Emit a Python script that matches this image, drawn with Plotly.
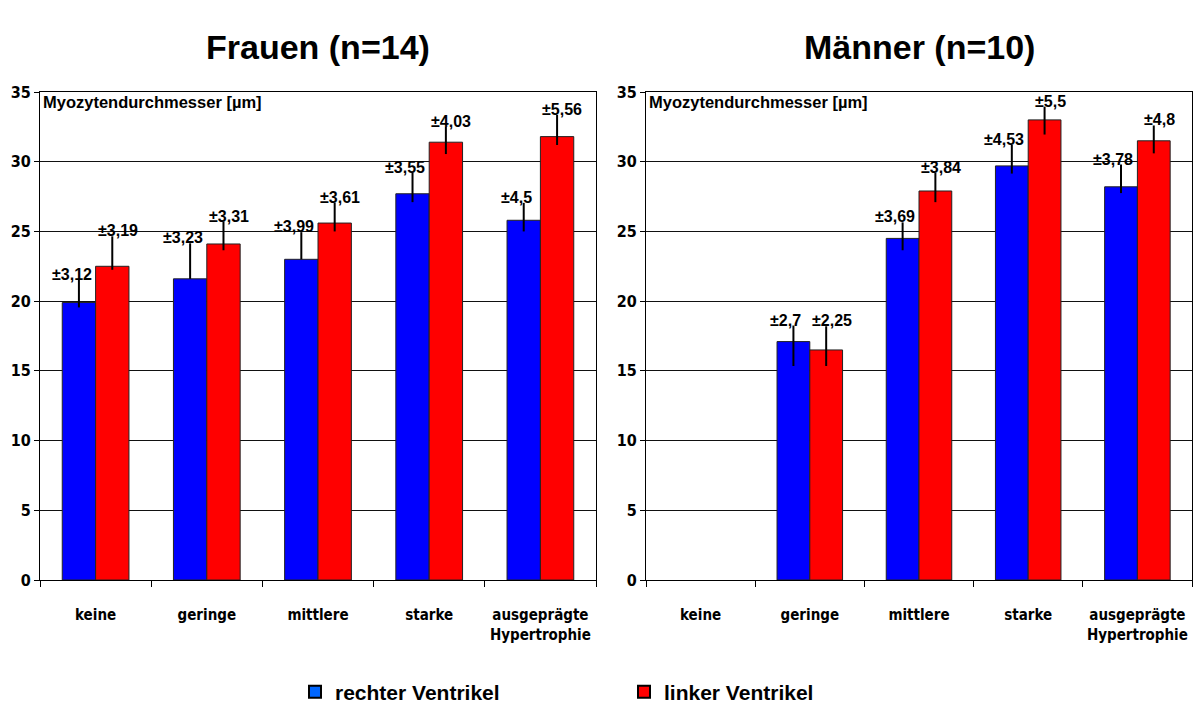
import plotly.graph_objects as go
from plotly.subplots import make_subplots

categories = ["keine", "geringe", "mittlere", "starke", "ausgeprägte"]
tick_labels = ["keine", "geringe", "mittlere", "starke", "ausgeprägte<br>Hypertrophie"]

# Frauen (n=14)
f_rv = [19.9, 21.6, 23.0, 27.7, 25.8]
f_lv = [22.5, 24.1, 25.6, 31.4, 31.8]
f_rv_sd = ["±3,12", "±3,23", "±3,99", "±3,55", "±4,5"]
f_lv_sd = ["±3,19", "±3,31", "±3,61", "±4,03", "±5,56"]
f_rv_up = [1.65, 2.55, 1.95, 1.5, 1.25]
f_rv_dn = [0.35, 0.0, 0.0, 0.6, 0.8]
f_lv_up = [2.15, 1.6, 1.45, 1.1, 1.55]
f_lv_dn = [0.25, 0.45, 0.6, 0.85, 0.6]

# Männer (n=10)
m_rv = [None, 17.1, 24.5, 29.7, 28.2]
m_lv = [None, 16.5, 27.9, 33.0, 31.5]
m_rv_sd = [None, "±2,7", "±3,69", "±4,53", "±3,78"]
m_lv_sd = [None, "±2,25", "±3,84", "±5,5", "±4,8"]
m_rv_up = [0, 1.15, 1.15, 1.5, 1.6]
m_rv_dn = [0, 1.75, 0.85, 0.55, 0.45]
m_lv_up = [0, 1.7, 1.3, 0.95, 1.1]
m_lv_dn = [0, 1.15, 0.8, 1.05, 0.9]

series_names = ["rechter Ventrikel", "linker Ventrikel"]
bar_colors = ["#0000FF", "#FF0000"]
legend_colors = ["#0066FF", "#FF0000"]
titles = ["Frauen (n=14)", "Männer (n=10)"]
y_ticks = [0, 5, 10, 15, 20, 25, 30, 35]

NARROW = "DejaVu Sans Condensed, Liberation Sans Narrow, Arial Narrow, sans-serif"
SANS = "Liberation Sans, Arial, sans-serif"

fig = make_subplots(rows=1, cols=2)

panels = [
    (f_rv, f_lv, f_rv_sd, f_lv_sd, f_rv_up, f_rv_dn, f_lv_up, f_lv_dn),
    (m_rv, m_lv, m_rv_sd, m_lv_sd, m_rv_up, m_rv_dn, m_lv_up, m_lv_dn),
]

for ci, (rv, lv, rsd, lsd, rup, rdn, lup, ldn) in enumerate(panels, start=1):
    for vals, up, dn, color, name in [(rv, rup, rdn, bar_colors[0], series_names[0]),
                                      (lv, lup, ldn, bar_colors[1], series_names[1])]:
        fig.add_trace(go.Bar(
            x=categories, y=vals, name=name, showlegend=False,
            marker=dict(color=color, line=dict(color="#222222", width=1)),
            error_y=dict(type="data", symmetric=False, array=up, arrayminus=dn,
                         color="black", thickness=2, width=0),
        ), row=1, col=ci)
    xref = "x" if ci == 1 else "x2"
    yref = "y" if ci == 1 else "y2"
    for vals, up, labels, shift in [(rv, rup, rsd, -24), (lv, lup, lsd, 22)]:
        for cat, v, u, lab in zip(categories, vals, up, labels):
            if v is None or lab is None:
                continue
            fig.add_annotation(x=cat, y=v + u, xref=xref, yref=yref, text=lab,
                               showarrow=False, xanchor="center", yanchor="bottom",
                               xshift=shift, yshift=-5,
                               font=dict(family=SANS, size=16, color="black", weight="bold"))

# legend entries
for name, color in zip(series_names, legend_colors):
    fig.add_trace(go.Scatter(x=[None], y=[None], mode="markers", name=name,
                             marker=dict(symbol="square", size=13, color=color,
                                         line=dict(color="black", width=1))))

# page is rendered with an 8px body offset
OFF = 8
W, H = 1201 - OFF, 725 - OFF
L, R, T = 40 - OFF, 9, 92 - OFF
B = H - (580 - OFF)
pw = W - L - R
ph = H - T - B
dom1 = [0, (596 - 40) / pw]
dom2 = [(646 - 40) / pw, 1]

axis_common = dict(showline=True, linecolor="black", linewidth=1, mirror=True, automargin=False)
fig.update_xaxes(**axis_common, type="category", tickson="boundaries", ticks="outside",
                 ticklen=6, tickcolor="black", tickvals=categories, ticktext=tick_labels,
                 ticklabelstandoff=21, range=[-0.5, 4.5], tickangle=0,
                 tickfont=dict(family=NARROW, size=15, color="black", weight="bold"),
                 showgrid=False)
fig.update_xaxes(domain=dom1, row=1, col=1)
fig.update_xaxes(domain=dom2, row=1, col=2)
fig.update_yaxes(**axis_common, range=[0, 35], tickvals=y_ticks, ticks="outside", ticklen=5,
                 tickcolor="black", showgrid=True, gridcolor="#111111", gridwidth=1,
                 zeroline=False,
                 tickfont=dict(family=NARROW, size=16, color="black", weight="bold"))

for dom, title, xref in [(dom1, titles[0], "x domain"), (dom2, titles[1], "x2 domain")]:
    fig.add_annotation(x=0.5, y=1, xref=xref, yref="paper", yshift=45, text=title,
                       showarrow=False, xanchor="center", yanchor="middle",
                       font=dict(family=SANS, size=34, color="black", weight="bold"))
    fig.add_annotation(x=0, y=1, xref=xref, yref="paper", xshift=1, yshift=1,
                       text="Myozytendurchmesser [µm]", showarrow=False,
                       xanchor="left", yanchor="top",
                       font=dict(family=SANS, size=16.5, color="black", weight="bold"))

fig.update_layout(
    width=W, height=H,
    margin=dict(l=L, r=R, t=T, b=B, autoexpand=False),
    paper_bgcolor="white", plot_bgcolor="white",
    barmode="group", bargap=0.4, bargroupgap=0,
    legend=dict(orientation="h", x=(287 - L) / pw, y=(580 - 692) / ph,
                xanchor="left", yanchor="middle", entrywidth=284, entrywidthmode="pixels",
                font=dict(family=SANS, size=21, color="black", weight="bold"),
                itemsizing="constant"),
)

fig.write_html("out.html")
